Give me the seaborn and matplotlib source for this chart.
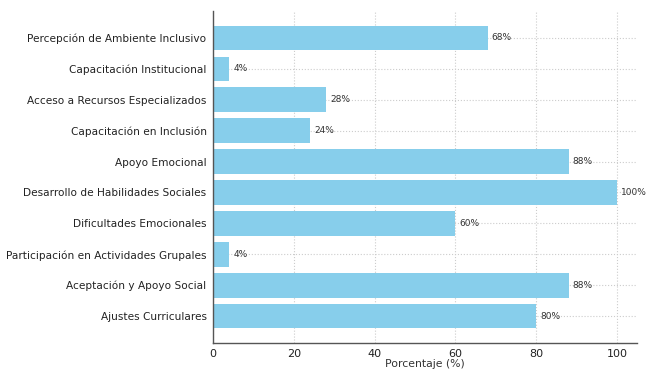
import matplotlib
matplotlib.use("Agg")
import matplotlib.pyplot as plt
import seaborn as sns
import pandas as pd

categorias = [
    "Percepción de Ambiente Inclusivo",
    "Capacitación Institucional",
    "Acceso a Recursos Especializados",
    "Capacitación en Inclusión",
    "Apoyo Emocional",
    "Desarrollo de Habilidades Sociales",
    "Dificultades Emocionales",
    "Participación en Actividades Grupales",
    "Aceptación y Apoyo Social",
    "Ajustes Curriculares",
]
porcentajes = [68, 4, 28, 24, 88, 100, 60, 4, 88, 80]

df = pd.DataFrame({"Categoria": categorias, "Porcentaje": porcentajes})

sns.set_theme(style="whitegrid")
plt.rcParams["font.family"] = ["DejaVu Sans"]

fig = plt.figure(figsize=(6.47, 3.70), dpi=100)
ax = fig.add_axes([0.329, 0.073, 0.656, 0.897])

sns.barplot(data=df, y="Categoria", x="Porcentaje", orient="h",
            color="#87CEEB", saturation=1, width=0.8, linewidth=0, ax=ax)

for i, v in enumerate(porcentajes):
    ax.text(v + 1, i, f"{v}%", va="center", ha="left", fontsize=6.5, color="#333333")

ax.set_xlim(0, 105)
ax.set_ylim(9.87, -0.87)
ax.set_xticks([0, 20, 40, 60, 80, 100])
ax.set_xlabel("Porcentaje (%)", fontsize=7.8, color="#333333", labelpad=0)
ax.set_ylabel("")

ax.grid(True, linestyle=":", color="#cccccc", linewidth=0.8)
ax.set_axisbelow(True)
for s in ["top", "right"]:
    ax.spines[s].set_visible(False)
for s in ["left", "bottom"]:
    ax.spines[s].set_color("#555555")
    ax.spines[s].set_linewidth(1.0)

ax.tick_params(axis="both", which="both", length=3, width=0.8, color="#555555",
               labelcolor="#222222", pad=1.5)
ax.tick_params(axis="y", labelsize=7.6)
ax.tick_params(axis="x", labelsize=8)

fig.savefig("out.png", dpi=100)
